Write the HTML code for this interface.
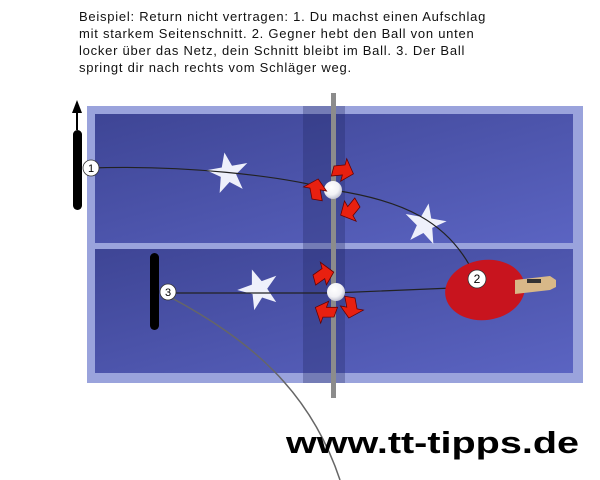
<!DOCTYPE html>
<html><head><meta charset="utf-8"><style>
html,body{margin:0;padding:0;background:#fff;width:600px;height:480px;overflow:hidden}
.t{position:absolute;left:79px;top:8px;font:13px/17px "Liberation Sans",sans-serif;letter-spacing:0.75px;color:#111;white-space:pre}
svg{position:absolute;left:0;top:0}
</style></head><body>
<svg width="600" height="480" viewBox="0 0 600 480">
<defs>
<linearGradient id="tb" x1="0" y1="0" x2="1" y2="1"><stop offset="0" stop-color="#3e4595"/><stop offset="1" stop-color="#5b64c2"/></linearGradient>
<radialGradient id="ball" cx="0.4" cy="0.35" r="0.7"><stop offset="0" stop-color="#fff"/><stop offset="0.6" stop-color="#f2f2f6"/><stop offset="1" stop-color="#b8bacb"/></radialGradient>
<g id="star"><polygon points="0,-16 4,-5 16,-5 6,2 9,14 0,7 -9,14 -6,2 -16,-5 -4,-5" fill="#eef0fb"/></g>
<g id="arr"><path d="M0,0 L8,-3 L8,-8 L16,2 L8,10 L8,5 L0,8 Z" fill="#e82010" stroke="#600" stroke-width="0.6"/></g>
</defs>
<rect x="87" y="106" width="496" height="277" fill="#9aa3dc"/>
<rect x="95" y="114" width="478" height="129" fill="url(#tb)"/>
<rect x="95" y="249" width="478" height="124" fill="url(#tb)"/>
<rect x="303" y="106" width="42" height="277" fill="#1e2360" opacity="0.3"/>
<rect x="331" y="93" width="5" height="305" fill="#8c8c8c"/>
<use href="#star" transform="translate(228,173) rotate(-10) scale(1.3)"/>
<use href="#star" transform="translate(425,224) rotate(10) scale(1.3)"/>
<use href="#star" transform="translate(259,289) rotate(-20) scale(1.3)"/>
<path d="M90,168 C180,165 280,175 333,190 C400,200 450,220 476,278" fill="none" stroke="#222" stroke-width="1.2"/>
<path d="M168,293 L333,293 L476,287" fill="none" stroke="#222" stroke-width="1.2"/>
<path d="M170,297 C250,340 310,390 340,480" fill="none" stroke="#666" stroke-width="1.5"/>
<ellipse cx="485" cy="290" rx="40" ry="30" fill="#c8141e" transform="rotate(-8 485 290)"/>
<path d="M515,280 L550,276 L556,280 L556,287 L550,290 L515,294 Z" fill="#d8b888"/>
<rect x="527" y="279" width="14" height="4" fill="#333"/>
<rect x="73" y="130" width="9" height="80" rx="4.5" fill="#000"/>
<line x1="77" y1="130" x2="77" y2="112" stroke="#000" stroke-width="2"/>
<polygon points="77,100 72,113 82,113" fill="#000"/>
<rect x="150" y="253" width="9" height="77" rx="4.5" fill="#000"/>
<circle cx="333" cy="190" r="9" fill="url(#ball)"/>
<circle cx="336" cy="292" r="9" fill="url(#ball)"/>
<use href="#arr" transform="translate(312,199) rotate(-80) scale(1.3)"/>
<use href="#arr" transform="translate(334,166) rotate(15) scale(1.3)"/>
<use href="#arr" transform="translate(360,207) rotate(150) scale(1.3)"/>
<use href="#arr" transform="translate(313,275) rotate(-15) scale(1.3)"/>
<use href="#arr" transform="translate(355,298) rotate(100) scale(1.3)"/>
<use href="#arr" transform="translate(334,317) rotate(200) scale(1.3)"/>
<g font-family="Liberation Sans,sans-serif" font-size="11" text-anchor="middle">
<circle cx="91" cy="168" r="8" fill="#fff" stroke="#333" stroke-width="0.8"/><text x="91" y="172">1</text>
<circle cx="477" cy="279" r="9" fill="#fff" stroke="#333" stroke-width="0.8"/><text x="477" y="283" font-size="12">2</text>
<circle cx="168" cy="292" r="8" fill="#fff" stroke="#333" stroke-width="0.8"/><text x="168" y="296">3</text>
</g>
<text x="286" y="453" font-family="Liberation Sans,sans-serif" font-size="31" font-weight="bold" fill="#000" textLength="293" lengthAdjust="spacingAndGlyphs">www.tt-tipps.de</text>
</svg>
<div class="t">Beispiel: Return nicht vertragen: 1. Du machst einen Aufschlag
mit starkem Seitenschnitt. 2. Gegner hebt den Ball von unten
locker über das Netz, dein Schnitt bleibt im Ball. 3. Der Ball
springt dir nach rechts vom Schläger weg.</div>
</body></html>
